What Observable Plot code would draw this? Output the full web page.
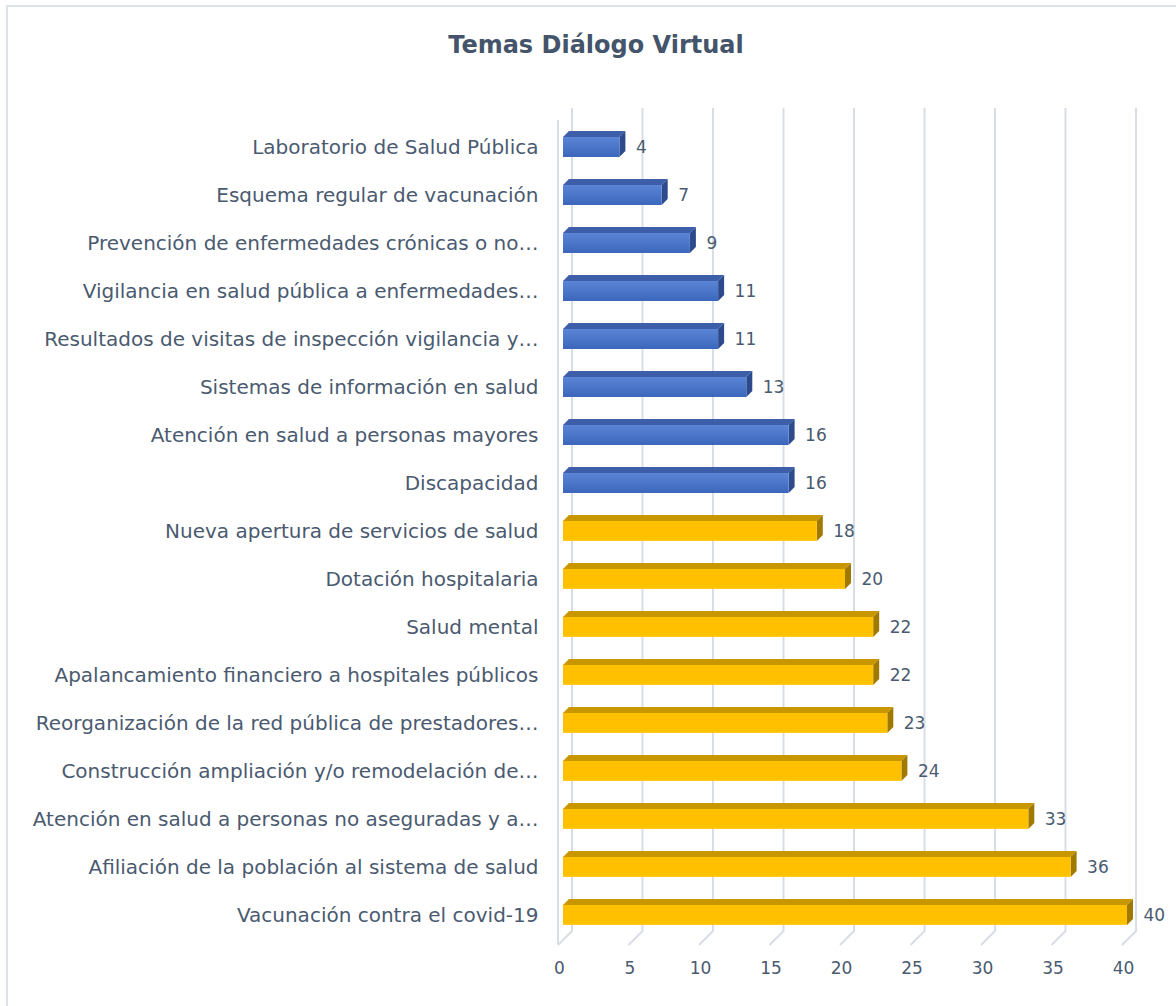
<!DOCTYPE html>
<html>
<head>
<meta charset="utf-8">
<script src="https://cdn.jsdelivr.net/npm/d3@7"></script>
<script src="https://cdn.jsdelivr.net/npm/@observablehq/plot@0.6"></script>
<style>
  body { margin: 0; background: #ffffff; }
  #wrap { position: relative; width: 1176px; height: 1006px; overflow: hidden; font-family: "DejaVu Sans", sans-serif; background: #fff; }
  #frame { position: absolute; left: 6px; top: 5px; width: 1190px; height: 1020px; border: 2px solid #dde1e8; box-sizing: border-box; }
  #title { position: absolute; top: 28px; left: 0; width: 1192px; text-align: center; font-weight: bold; font-size: 24px; line-height: 34px; color: #44546a; }
  #chart { position: absolute; left: 0; top: 80px; }
</style>
</head>
<body>
<div id="wrap">
  <div id="frame"></div>
  <div id="title">Temas Diálogo Virtual</div>
  <div id="chart"></div>
</div>
<script>
const temas = [
  "Laboratorio de Salud Pública",
  "Esquema regular de vacunación",
  "Prevención de enfermedades crónicas o no…",
  "Vigilancia en salud pública a enfermedades…",
  "Resultados de visitas de inspección vigilancia y…",
  "Sistemas de información en salud",
  "Atención en salud a personas mayores",
  "Discapacidad",
  "Nueva apertura de servicios de salud",
  "Dotación hospitalaria",
  "Salud mental",
  "Apalancamiento financiero a hospitales públicos",
  "Reorganización de la red pública de prestadores…",
  "Construcción ampliación y/o remodelación de…",
  "Atención en salud a personas no aseguradas y a…",
  "Afiliación de la población al sistema de salud",
  "Vacunación contra el covid-19"
];
const valores = [4, 7, 9, 11, 11, 13, 16, 16, 18, 20, 22, 22, 23, 24, 33, 36, 40];
const grupos = ["azul","azul","azul","azul","azul","azul","azul","azul",
                "oro","oro","oro","oro","oro","oro","oro","oro","oro"];
const ticksX = [0, 5, 10, 15, 20, 25, 30, 35, 40];

const data = temas.map((t, i) => ({tema: t, valor: valores[i], grupo: grupos[i]}));

const colores = {
  azul: {front: "url(#gAzul)", top: "#3d5ea8", side: "#2d4b8c"},
  oro:  {front: "url(#gOro)",  top: "#c79600", side: "#a07900"}
};

const gridColor = "#d9dde5";

const chart = Plot.plot({
  width: 1176,
  height: 926,
  marginLeft: 563,
  marginRight: 49,
  marginTop: 28,
  marginBottom: 75,
  style: {fontFamily: "DejaVu Sans, sans-serif", fontSize: "20px", color: "#4a5a70", background: "transparent", overflow: "visible"},
  x: {domain: [0, 40], ticks: ticksX, label: null},
  y: {domain: temas, range: [53, 849], paddingInner: 0.5866, paddingOuter: 0, align: 0.5, label: null},
  marks: [
    // back-wall gridlines with floor slants
    Plot.ruleX(ticksX, {
      x: d => d,
      render: (index, scales, values, dims) => {
        const yTop = dims.marginTop;
        const yBack = dims.height - dims.marginBottom;
        const yFront = yBack + 14;
        const g = d3.create("svg:g");
        for (const i of index) {
          const x = scales.x(ticksX[i]);
          g.append("path")
            .attr("d", `M${x - 5},${yFront}L${x + 9},${yBack}L${x + 9},${yTop}`)
            .attr("fill", "none").attr("stroke", gridColor).attr("stroke-width", 2);
          if (ticksX[i] === 0) {
            g.append("path")
              .attr("d", `M${x - 5},${yFront}L${x - 5},${yTop + 12}`)
              .attr("fill", "none").attr("stroke", gridColor).attr("stroke-width", 2);
          }
        }
        return g.node();
      }
    }),
    // 3D bars
    Plot.barX(data, {
      x: "valor",
      y: "tema",
      render: (index, scales) => {
        const g = d3.create("svg:g");
        const defs = g.append("defs");
        const ga = defs.append("linearGradient").attr("id", "gAzul").attr("x1", 0).attr("y1", 0).attr("x2", 0).attr("y2", 1);
        ga.append("stop").attr("offset", "0%").attr("stop-color", "#5b86d6");
        ga.append("stop").attr("offset", "100%").attr("stop-color", "#3c66bb");
        const go = defs.append("linearGradient").attr("id", "gOro").attr("x1", 0).attr("y1", 0).attr("x2", 0).attr("y2", 1);
        go.append("stop").attr("offset", "0%").attr("stop-color", "#ffc000");
        go.append("stop").attr("offset", "90%").attr("stop-color", "#ffc000");
        go.append("stop").attr("offset", "100%").attr("stop-color", "#ffcb2a");
        const bw = scales.y.bandwidth();
        const d = 6;
        for (const i of index) {
          const row = data[i];
          const c = colores[row.grupo];
          const x0 = scales.x(0), x1 = scales.x(row.valor), y0 = scales.y(row.tema);
          g.append("path")
            .attr("d", `M${x0},${y0}L${x1},${y0}L${x1 + d},${y0 - d}L${x0 + d},${y0 - d}Z`)
            .attr("fill", c.top);
          g.append("path")
            .attr("d", `M${x1},${y0}L${x1 + d},${y0 - d}L${x1 + d},${y0 + bw - d}L${x1},${y0 + bw}Z`)
            .attr("fill", c.side);
          g.append("rect")
            .attr("x", x0).attr("y", y0).attr("width", x1 - x0).attr("height", bw)
            .attr("fill", c.front);
        }
        return g.node();
      }
    }),
    Plot.text(data, {x: "valor", y: "tema", text: d => String(d.valor), dx: 16, textAnchor: "start", fontSize: 17, fill: "#4a5a70"}),
    Plot.axisY({tickSize: 0, tickPadding: 25, fontSize: 20, fill: "#4a5a70", label: null}),
    Plot.axisX({ticks: ticksX, tickSize: 0, tickPadding: 30, dx: -4, fontSize: 17, fill: "#4a5a70", label: null})
  ]
});
document.getElementById("chart").appendChild(chart);
</script>
</body>
</html>
